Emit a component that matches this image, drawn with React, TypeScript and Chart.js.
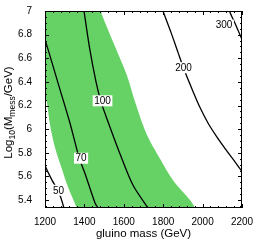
import React, { useEffect, useRef } from "react";
import { Chart, registerables } from "chart.js";

Chart.register(...registerables);

// ---- data (GeV, log10(Mmess/GeV)) ----
const xMin = 1200;
const xMax = 2200;
const yMin = 5.333;
const yMax = 7.0;

const xTicks = [1200, 1400, 1600, 1800, 2000, 2200];
const xTickLabels = ["1200", "1400", "1600", "1800", "2000", "2200"];
const yTicks = [5.4, 5.6, 5.8, 6.0, 6.2, 6.4, 6.6, 6.8, 7.0];
const yTickLabels = ["5.4", "5.6", "5.8", "6", "6.2", "6.4", "6.6", "6.8", "7"];
const xMinorStep = 40;
const yMinorStep = 0.05;

// green band: left edge (top -> bottom), then right edge (bottom -> top)
const bandLeftX = [1160, 1190, 1200, 1209, 1225, 1251, 1285, 1317, 1361, 1368];
const bandLeftY = [7.1, 6.4, 6.258, 6.233, 6.042, 5.842, 5.667, 5.508, 5.333, 5.28];
const bandRightX = [1975, 1961, 1936, 1850, 1784, 1716, 1657, 1615, 1547, 1483, 1475];
const bandRightY = [5.28, 5.333, 5.4, 5.567, 5.75, 5.958, 6.233, 6.458, 6.733, 7.0, 7.1];

// contour lines
const c50X = [1190, 1200, 1236, 1266, 1281, 1296, 1300];
const c50Y = [5.75, 5.692, 5.567, 5.483, 5.417, 5.333, 5.3];
const c70X = [1190, 1200, 1220, 1269, 1327, 1373, 1403, 1454, 1469, 1475];
const c70Y = [6.82, 6.76, 6.65, 6.375, 6.05, 5.76, 5.625, 5.375, 5.333, 5.3];
const c100X = [1394, 1398, 1426, 1459, 1484, 1510, 1581, 1647, 1723, 1735];
const c100Y = [7.05, 7.0, 6.69, 6.4, 6.233, 6.108, 5.79, 5.525, 5.333, 5.3];
const c200X = [1790, 1799, 1840, 1875, 1911, 1952, 1987, 2028, 2073, 2119, 2160, 2200, 2215];
const c200Y = [7.05, 7.0, 6.817, 6.65, 6.483, 6.317, 6.183, 6.05, 5.933, 5.825, 5.733, 5.642, 5.61];
const c300X = [2128, 2136, 2170, 2200, 2210];
const c300Y = [7.05, 7.0, 6.875, 6.758, 6.72];

// contour labels
const labelTexts = ["50", "70", "100", "200", "300"];
const labelX = [1269, 1383, 1492, 1903, 2109];
const labelY = [5.483, 5.754, 6.24, 6.52, 6.88];

const bandColor = "rgb(102, 210, 102)";
const FONT = "'Liberation Sans', Arial, Helvetica, sans-serif";

const pts = (xs: number[], ys: number[]) => xs.map((x, i) => ({ x, y: ys[i] }));

const lineDs = (xs: number[], ys: number[]) => ({
  data: pts(xs, ys),
  showLine: true,
  borderColor: "#000",
  borderWidth: 1.3,
  pointRadius: 0,
  tension: 0.3,
  fill: false,
  clip: 0,
  order: 0,
});

const decorPlugin = {
  id: "decor",
  afterDatasetsDraw(chart: any) {
    const { ctx, chartArea: a, scales } = chart;
    const xs = scales.x;
    const ys = scales.y;
    ctx.save();
    // contour labels
    ctx.font = `10px ${FONT}`;
    ctx.textAlign = "center";
    ctx.textBaseline = "middle";
    labelTexts.forEach((t, i) => {
      const px = xs.getPixelForValue(labelX[i]);
      const py = ys.getPixelForValue(labelY[i]);
      const w = ctx.measureText(t).width + 3;
      ctx.fillStyle = "#fff";
      ctx.fillRect(px - w / 2, py - 5.5, w, 11);
      ctx.fillStyle = "#000";
      ctx.fillText(t, px, py + 0.5);
    });

    // frame
    ctx.strokeStyle = "#000";
    ctx.lineWidth = 1;
    ctx.strokeRect(a.left + 0.5, a.top + 0.5, a.right - a.left - 1, a.bottom - a.top - 1);

    // ticks (inward, all four sides)
    ctx.beginPath();
    for (let v = xMin; v <= xMax + 1e-6; v += xMinorStep) {
      const major = xTicks.some((t) => Math.abs(t - v) < 1e-6);
      const len = major ? 4 : 2;
      const px = Math.round(xs.getPixelForValue(v)) + 0.5;
      ctx.moveTo(px, a.bottom);
      ctx.lineTo(px, a.bottom - len);
      ctx.moveTo(px, a.top);
      ctx.lineTo(px, a.top + len);
    }
    for (let k = 0; ; k++) {
      const v = 5.35 + k * yMinorStep;
      if (v > yMax + 1e-6) break;
      if (v < yMin) continue;
      const major = yTicks.some((t) => Math.abs(t - v) < 1e-6);
      const len = major ? 4 : 2;
      const py = Math.round(ys.getPixelForValue(v)) + 0.5;
      ctx.moveTo(a.left, py);
      ctx.lineTo(a.left + len, py);
      ctx.moveTo(a.right, py);
      ctx.lineTo(a.right - len, py);
    }
    ctx.stroke();

    // x title
    ctx.fillStyle = "#000";
    ctx.font = `11.5px ${FONT}`;
    ctx.textAlign = "center";
    ctx.textBaseline = "alphabetic";
    ctx.fillText("gluino mass (GeV)", (a.left + a.right) / 2, 237);

    // y title with subscripts
    const parts = [
      { t: "Log", sub: false },
      { t: "10", sub: true },
      { t: "(M", sub: false },
      { t: "mess", sub: true },
      { t: "/GeV)", sub: false },
    ];
    const mainFont = `11.5px ${FONT}`;
    const subFont = `8.5px ${FONT}`;
    let total = 0;
    const widths = parts.map((p) => {
      ctx.font = p.sub ? subFont : mainFont;
      const w = ctx.measureText(p.t).width;
      total += w;
      return w;
    });
    ctx.translate(12, (a.top + a.bottom) / 2 + 3);
    ctx.rotate(-Math.PI / 2);
    ctx.textAlign = "left";
    let cx = -total / 2;
    parts.forEach((p, i) => {
      ctx.font = p.sub ? subFont : mainFont;
      ctx.fillText(p.t, cx, p.sub ? 3 : 0);
      cx += widths[i];
    });
    ctx.restore();
  },
};

export default function App() {
  const ref = useRef<HTMLCanvasElement | null>(null);
  useEffect(() => {
    if (!ref.current) return;
    Chart.defaults.font.family = FONT;
    const chart = new Chart(ref.current, {
      type: "scatter",
      data: {
        datasets: [
          {
            data: [...pts(bandLeftX, bandLeftY), ...pts(bandRightX, bandRightY)],
            showLine: true,
            borderWidth: 0,
            borderColor: "rgba(0,0,0,0)",
            backgroundColor: bandColor,
            pointRadius: 0,
            tension: 0.3,
            fill: "shape",
            clip: 0,
            order: 5,
          } as any,
          lineDs(c50X, c50Y),
          lineDs(c70X, c70Y),
          lineDs(c100X, c100Y),
          lineDs(c200X, c200Y),
          lineDs(c300X, c300Y),
        ],
      },
      options: {
        animation: false,
        responsive: false,
        devicePixelRatio: 1,
        events: [],
        layout: { padding: { top: 8, right: 14, left: 0, bottom: 0 } },
        plugins: { legend: { display: false }, tooltip: { enabled: false } },
        scales: {
          x: {
            type: "linear",
            min: xMin,
            max: xMax,
            grid: { display: false },
            border: { display: false },
            afterBuildTicks: (s: any) => {
              s.ticks = xTicks.map((v) => ({ value: v }));
            },
            afterFit: (s: any) => {
              s.height = 35;
            },
            ticks: {
              padding: 0,
              maxRotation: 0,
              autoSkip: false,
              color: "#000",
              font: { size: 10, family: FONT },
              callback: (v: any) => xTickLabels[xTicks.indexOf(Number(v))] ?? "",
            },
          },
          y: {
            type: "linear",
            min: yMin,
            max: yMax,
            grid: { display: false },
            border: { display: false },
            afterBuildTicks: (s: any) => {
              s.ticks = yTicks.map((v) => ({ value: v }));
            },
            afterFit: (s: any) => {
              s.width = 45;
            },
            ticks: {
              padding: 5,
              autoSkip: false,
              color: "#000",
              font: { size: 10, family: FONT },
              callback: (v: any) => {
                const i = yTicks.findIndex((t) => Math.abs(t - Number(v)) < 1e-6);
                return i >= 0 ? yTickLabels[i] : "";
              },
            },
          },
        },
      },
      plugins: [decorPlugin],
    });
    return () => chart.destroy();
  }, []);
  return (
    <div style={{ position: "fixed", left: 0, top: 0, width: 256, height: 243, background: "#fff" }}>
      <canvas ref={ref} width={256} height={243} style={{ display: "block" }} />
    </div>
  );
}
